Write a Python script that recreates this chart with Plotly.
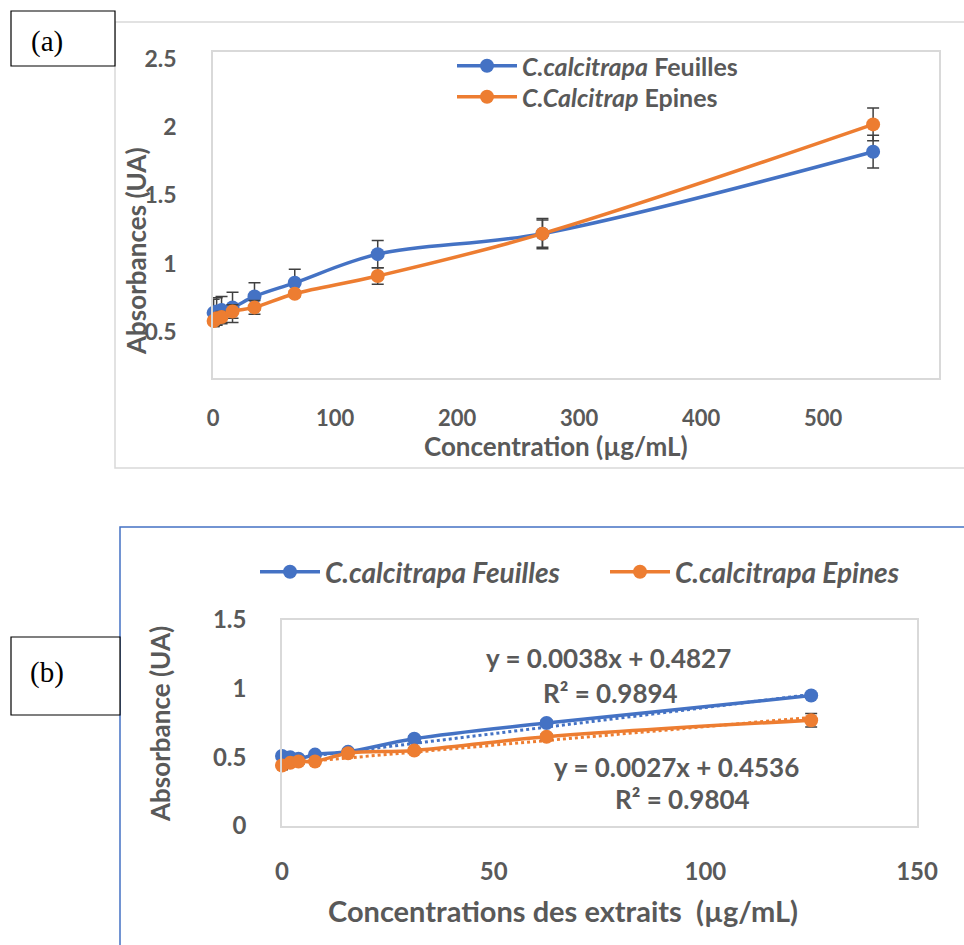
import plotly.graph_objects as go

W, H = 964, 945
def px(x): return x / W
def py(y): return 1 - y / H

BLUE = "#4472C4"
ORANGE = "#ED7D31"
GREY = "#595959"
ERR = "#404040"
FONT = "Lato"

# ---- chart (a) data ----
conc_a = [0.5, 3, 7, 16, 34, 67, 135, 270, 541]
feuilles_a = [0.64, 0.65, 0.66, 0.68, 0.76, 0.86, 1.07, 1.22, 1.82]
feuilles_a_err = [0.10, 0.10, 0.10, 0.11, 0.10, 0.10, 0.10, 0.11, 0.12]
epines_a = [0.58, 0.60, 0.61, 0.65, 0.68, 0.78, 0.91, 1.22, 2.02]
epines_a_err = [0.04, 0.04, 0.04, 0.05, 0.05, 0.02, 0.06, 0.10, 0.12]
xticks_a = [0, 100, 200, 300, 400, 500]
yticks_a = [0.5, 1, 1.5, 2, 2.5]
yticklabels_a = ["0.5", "1", "1.5", "2", "2.5"]

# ---- chart (b) data ----
conc_b = [0, 1.95, 3.9, 7.8, 15.6, 31.25, 62.5, 125]
feuilles_b = [0.51, 0.50, 0.49, 0.52, 0.54, 0.635, 0.75, 0.95]
feuilles_b_err = [0.03, 0.02, 0.02, 0.02, 0.02, 0.02, 0.02, 0.02]
epines_b = [0.44, 0.46, 0.47, 0.47, 0.53, 0.55, 0.65, 0.77]
epines_b_err = [0.03, 0.02, 0.02, 0.02, 0.02, 0.02, 0.02, 0.05]
xticks_b = [0, 50, 100, 150]
yticks_b = [0, 0.5, 1, 1.5]
yticklabels_b = ["0", "0.5", "1", "1.5"]
fit_feuilles = (0.0038, 0.4827)
fit_epines = (0.0027, 0.4536)
fit_x = [0, 125]

fig = go.Figure()

def err(v):
    return dict(type="data", array=v, visible=True, color=ERR, thickness=1.5, width=6)

fig.add_trace(go.Scatter(x=conc_a, y=feuilles_a, mode="lines+markers",
    name="<i>C.calcitrapa</i> Feuilles", line=dict(color=BLUE, width=3.5, shape="spline"),
    marker=dict(color=BLUE, size=14), error_y=err(feuilles_a_err),
    xaxis="x", yaxis="y", legend="legend", cliponaxis=False))
fig.add_trace(go.Scatter(x=conc_a, y=epines_a, mode="lines+markers",
    name="<i>C.Calcitrap</i> Epines", line=dict(color=ORANGE, width=3.5, shape="spline"),
    marker=dict(color=ORANGE, size=14), error_y=err(epines_a_err),
    xaxis="x", yaxis="y", legend="legend3", cliponaxis=False))

# trendlines (b)
fig.add_trace(go.Scatter(x=fit_x, y=[fit_feuilles[0] * v + fit_feuilles[1] for v in fit_x],
    mode="lines", line=dict(color=BLUE, width=3, dash="dot"), showlegend=False,
    xaxis="x2", yaxis="y2", hoverinfo="skip"))
fig.add_trace(go.Scatter(x=fit_x, y=[fit_epines[0] * v + fit_epines[1] for v in fit_x],
    mode="lines", line=dict(color=ORANGE, width=3, dash="dot"), showlegend=False,
    xaxis="x2", yaxis="y2", hoverinfo="skip"))

fig.add_trace(go.Scatter(x=conc_b, y=feuilles_b, mode="lines+markers",
    name="C.calcitrapa Feuilles", line=dict(color=BLUE, width=3.5, shape="spline"),
    marker=dict(color=BLUE, size=14), error_y=err(feuilles_b_err),
    xaxis="x2", yaxis="y2", legend="legend2", cliponaxis=False))
fig.add_trace(go.Scatter(x=conc_b, y=epines_b, mode="lines+markers",
    name="C.calcitrapa Epines", line=dict(color=ORANGE, width=3.5, shape="spline"),
    marker=dict(color=ORANGE, size=14), error_y=err(epines_b_err),
    xaxis="x2", yaxis="y2", legend="legend2", cliponaxis=False))

def tickfont(size):
    return dict(family=FONT, size=size, color=GREY, weight="bold")

axcommon = dict(showline=True, mirror=True, linecolor="#d9d9d9", linewidth=1.5,
                showgrid=False, zeroline=False, ticks="",
                fixedrange=True, automargin=False)

legfont_a = dict(family=FONT, size=25, color=GREY, weight="bold")
legfont_b = dict(family=FONT, size=28, color=GREY, weight="bold", style="italic")

fig.update_layout(
    width=W, height=H, margin=dict(l=0, r=0, t=0, b=0, autoexpand=False),
    paper_bgcolor="white", plot_bgcolor="white",
    xaxis=dict(domain=[px(213), px(939)], range=[0, 595], tickvals=xticks_a,
               anchor="y", ticklabelstandoff=20, tickfont=tickfont(22), **axcommon),
    yaxis=dict(domain=[py(378), py(52)], range=[0.163, 2.55], tickvals=yticks_a,
               ticktext=yticklabels_a, anchor="x", ticklabelstandoff=30,
               tickfont=tickfont(23), **axcommon),
    xaxis2=dict(domain=[px(282), px(917)], range=[0, 150], tickvals=xticks_b,
                anchor="y2", ticklabelstandoff=23, tickfont=tickfont(24), **axcommon),
    yaxis2=dict(domain=[py(826), py(620)], range=[0, 1.5], tickvals=yticks_b,
                ticktext=yticklabels_b, anchor="x2", ticklabelstandoff=29,
                tickfont=tickfont(24), **axcommon),
    legend=dict(x=px(452), y=py(66), xanchor="left", yanchor="middle", itemwidth=60,
                bgcolor="rgba(0,0,0,0)", font=legfont_a),
    legend3=dict(x=px(452), y=py(97), xanchor="left", yanchor="middle", itemwidth=60,
                 bgcolor="rgba(0,0,0,0)", font=legfont_a),
    legend2=dict(x=px(255), y=py(572), xanchor="left", yanchor="middle", orientation="h",
                 itemwidth=60, bgcolor="rgba(0,0,0,0)", entrywidth=275, font=legfont_b),
    showlegend=True,
)

shapes = [
    # frame (a)
    dict(type="rect", xref="paper", yref="paper", x0=px(115), x1=1.02, y0=py(468), y1=py(22),
         line=dict(color="#d9d9d9", width=1.5), layer="below"),
    # frame (b)
    dict(type="rect", xref="paper", yref="paper", x0=px(120), x1=1.02, y0=-0.02, y1=py(527),
         line=dict(color=BLUE, width=1.5), layer="below"),
    # label boxes
    dict(type="rect", xref="paper", yref="paper", x0=px(11), x1=px(115), y0=py(66), y1=py(11),
         line=dict(color="black", width=1.2), fillcolor="white"),
    dict(type="rect", xref="paper", yref="paper", x0=px(11), x1=px(120), y0=py(715), y1=py(637),
         line=dict(color="black", width=1.2), fillcolor="white"),
]

def ann(text, x, y, size, angle=0, family=FONT, bold=True, color=GREY):
    return dict(text=text, xref="paper", yref="paper", x=px(x), y=py(y),
                xanchor="center", yanchor="middle", showarrow=False, textangle=angle,
                font=dict(family=family, size=size, color=color, weight="bold" if bold else "normal"))

annotations = [
    ann("(a)", 47, 41, 29, family="Liberation Serif", bold=False, color="black"),
    ann("(b)", 47, 672, 29, family="Liberation Serif", bold=False, color="black"),
    ann("Absorbances (UA)", 136, 251, 26, angle=-90),
    ann("Concentration (µg/mL)", 556, 446, 26),
    ann("Absorbance (UA)", 160, 724, 26, angle=-90),
    ann("Concentrations des extraits\u00a0 (µg/mL)", 563, 910, 29),
    ann("y = 0.0038x + 0.4827", 608, 658, 26),
    ann("R² = 0.9894", 610, 693, 26),
    ann("y = 0.0027x + 0.4536", 676, 767, 26),
    ann("R² = 0.9804", 682, 799, 26),
]

fig.update_layout(shapes=shapes, annotations=annotations)
fig.write_html("out.html")
